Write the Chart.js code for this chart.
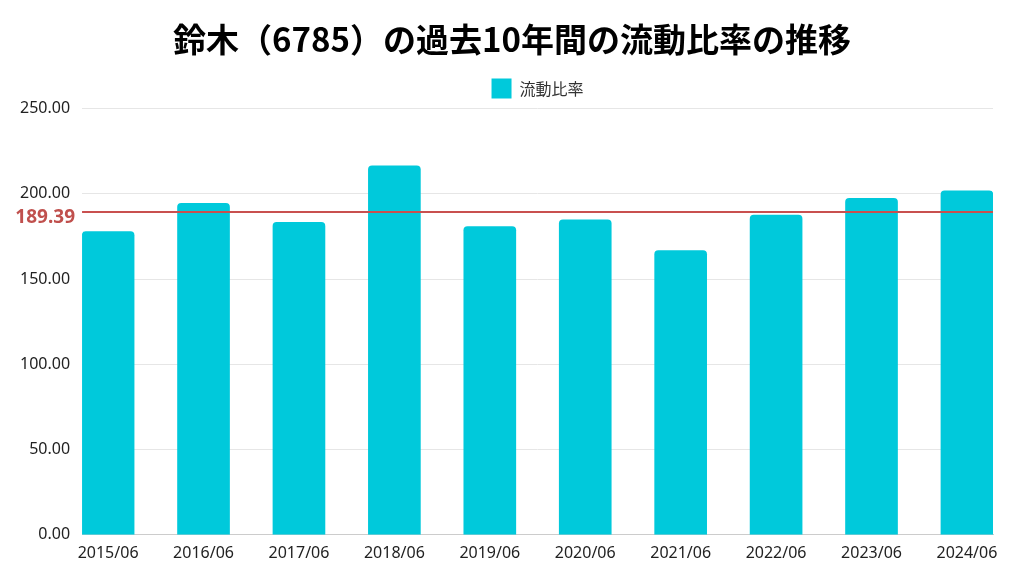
<!DOCTYPE html>
<html><head><meta charset="utf-8">
<script src="https://cdn.jsdelivr.net/npm/chart.js@4/dist/chart.umd.min.js"></script>
<style>html,body{margin:0;padding:0;background:#fff;}#wrap{width:1024px;height:576px;position:relative;}</style>
</head><body><div id="wrap"><canvas id="c" width="1024" height="576"></canvas></div>
<script>
const categories = ['2015/06','2016/06','2017/06','2018/06','2019/06','2020/06','2021/06','2022/06','2023/06','2024/06'];
const currentRatio = [177.8,194.4,183.3,216.5,180.8,184.7,166.7,187.6,197.4,201.7];
const averageValue = 189.39;
const titleText = '鈴木（6785）の過去10年間の流動比率の推移';
const seriesName = '流動比率';

const avgPlugin = {
  id: 'avgLine',
  beforeDraw(chart) {
    const ca = chart.chartArea;
    if (chart.legend) { chart.legend.left = ca.left; chart.legend.right = ca.right; }
    if (chart.titleBlock) { chart.titleBlock.left = 0; chart.titleBlock.right = chart.width; }
  },
  afterDatasetsDraw(chart) {
    const {ctx, chartArea, scales} = chart;
    const y = scales.y.getPixelForValue(averageValue);
    ctx.save();
    ctx.strokeStyle = '#c9504f';
    ctx.lineWidth = 2;
    ctx.beginPath();
    ctx.moveTo(chartArea.left, y);
    ctx.lineTo(chartArea.right, y);
    ctx.stroke();
    ctx.fillStyle = '#c0504d';
    ctx.font = 'bold 19px "Noto Sans", sans-serif';
    ctx.textAlign = 'right';
    ctx.textBaseline = 'middle';
    ctx.fillText(averageValue.toFixed(2), chartArea.left - 7, y + 6);
    ctx.restore();
  }
};

new Chart(document.getElementById('c'), {
  type: 'bar',
  data: {
    datasets: [{
      label: seriesName,
      data: currentRatio.map((v, i) => ({x: i, y: v})),
      backgroundColor: '#00C9DB',
      borderRadius: 4,
      borderSkipped: 'bottom',
      barThickness: 52
    }]
  },
  options: {
    responsive: false,
    animation: false,
    layout: {padding: {left: 8, right: 31, top: 0, bottom: 12}},
    plugins: {
      title: {
        display: true,
        text: titleText,
        color: '#000',
        font: {family: '"Noto Sans CJK JP", sans-serif', size: 33, weight: 'bold'},
        padding: {top: 20, bottom: 9}
      },
      legend: {
        display: true,
        labels: {
          color: '#333',
          font: {family: '"Noto Sans CJK JP", sans-serif', size: 16},
          boxWidth: 20, boxHeight: 20, padding: 10
        }
      },
      tooltip: {enabled: false}
    },
    scales: {
      x: {
        type: 'linear',
        min: -0.273, max: 9.273,
        offset: false,
        grid: {display: false},
        border: {color: '#cccccc'},
        afterBuildTicks: axis => { axis.ticks = categories.map((c, i) => ({value: i})); },
        ticks: {color: '#222', font: {family: '"Noto Sans", sans-serif', size: 16}, padding: 1,
          autoSkip: false, maxRotation: 0,
          callback: v => categories[v]}
      },
      y: {
        min: 0, max: 250,
        ticks: {stepSize: 50, color: '#222', font: {family: '"Noto Sans", sans-serif', size: 16},
          callback: v => v.toFixed(2), padding: 12},
        grid: {color: '#e6e6e6', drawTicks: false},
        border: {display: false}
      }
    }
  },
  plugins: [avgPlugin]
});
</script></body></html>
